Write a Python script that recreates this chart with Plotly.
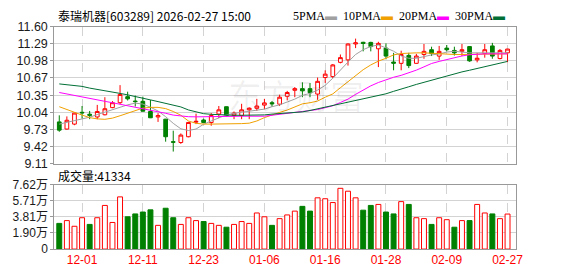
import plotly.graph_objects as go

# ---------------- data ----------------
dates = [
    "2025-11-26", "2025-11-27", "2025-11-28", "2025-12-01", "2025-12-02", "2025-12-03",
    "2025-12-04", "2025-12-05", "2025-12-08", "2025-12-09", "2025-12-10", "2025-12-11",
    "2025-12-12", "2025-12-15", "2025-12-16", "2025-12-17", "2025-12-18", "2025-12-19",
    "2025-12-22", "2025-12-23", "2025-12-24", "2025-12-25", "2025-12-26", "2025-12-29",
    "2025-12-30", "2025-12-31", "2026-01-05", "2026-01-06", "2026-01-07", "2026-01-08",
    "2026-01-09", "2026-01-12", "2026-01-13", "2026-01-14", "2026-01-15", "2026-01-16",
    "2026-01-19", "2026-01-20", "2026-01-21", "2026-01-22", "2026-01-23", "2026-01-26",
    "2026-01-27", "2026-01-28", "2026-01-29", "2026-01-30", "2026-02-02", "2026-02-03",
    "2026-02-04", "2026-02-05", "2026-02-06", "2026-02-09", "2026-02-10", "2026-02-11",
    "2026-02-12", "2026-02-13", "2026-02-24", "2026-02-25", "2026-02-26", "2026-02-27",
]

open_ = [9.87, 9.74, 9.83, 10.045, 10.01, 9.96, 10.00, 10.13, 10.22, 10.33,
         10.25, 10.245, 10.06, 9.96, 9.92, 9.51, 9.495, 9.60, 9.865, 9.905,
         9.858, 10.013, 10.147, 9.986, 9.986, 10.09, 10.118, 10.176, 10.22, 10.193,
         10.337, 10.446, 10.476, 10.476, 10.377, 10.678, 10.695, 10.955, 11.00, 11.29,
         11.32, 11.318, 11.202, 11.214, 10.96, 10.937, 11.081, 10.937, 11.098, 11.185,
         11.069, 11.214, 11.172, 11.155, 11.242, 11.00, 11.115, 11.254, 11.024, 11.128]
high = [9.99, 9.97, 10.03, 10.16, 10.07, 10.18, 10.32, 10.25, 10.54, 10.42,
        10.35, 10.33, 10.27, 10.03, 9.925, 9.71, 9.66, 9.87, 10.02, 9.93,
        10.03, 10.16, 10.15, 10.06, 10.20, 10.135, 10.29, 10.29, 10.25, 10.366,
        10.435, 10.505, 10.591, 10.579, 10.678, 10.81, 10.925, 11.098, 11.30, 11.387,
        11.33, 11.33, 11.33, 11.30, 11.128, 11.167, 11.128, 11.11, 11.289, 11.24,
        11.254, 11.271, 11.24, 11.289, 11.25, 11.128, 11.289, 11.31, 11.197, 11.20]
low = [9.69, 9.73, 9.81, 9.93, 9.92, 9.92, 9.99, 10.12, 10.19, 10.26,
       10.15, 10.06, 9.94, 9.87, 9.51, 9.33, 9.47, 9.59, 9.83, 9.85,
       9.80, 9.94, 9.97, 9.92, 9.92, 9.92, 10.07, 10.10, 10.147, 10.159,
       10.263, 10.32, 10.32, 10.32, 10.273, 10.58, 10.666, 10.937, 10.896, 11.214,
       11.155, 11.155, 10.868, 11.01, 10.81, 10.81, 10.85, 10.93, 11.02, 11.07,
       11.00, 11.155, 11.08, 11.07, 10.965, 10.955, 11.04, 11.02, 11.01, 10.955]
close = [9.72, 9.90, 10.031, 10.035, 9.99, 10.06, 10.11, 10.22, 10.37, 10.29,
         10.24, 10.065, 9.945, 9.985, 9.60, 9.50, 9.63, 9.86, 9.88, 9.858,
         9.986, 10.09, 9.986, 10.031, 10.089, 10.12, 10.159, 10.216, 10.20, 10.32,
         10.406, 10.476, 10.436, 10.401, 10.609, 10.74, 10.908, 11.041, 11.289, 11.31,
         11.30, 11.242, 11.30, 11.069, 10.94, 11.098, 10.896, 11.069, 11.155, 11.115,
         11.155, 11.185, 11.128, 11.185, 10.982, 11.03, 11.185, 11.069, 11.172, 11.197]

ma5 = [9.83, 9.861, 9.896, 9.922, 9.956, 10.003, 10.051, 10.095, 10.138, 10.181,
       10.212, 10.195, 10.138, 10.069, 9.965, 9.844, 9.744, 9.714, 9.74, 9.827,
       9.887, 9.939, 9.999, 10.026, 10.043, 10.06, 10.078, 10.103, 10.147, 10.181,
       10.233, 10.285, 10.354, 10.389, 10.449, 10.536, 10.666, 10.821, 10.96, 11.098,
       11.185, 11.245, 11.271, 11.219, 11.158, 11.072, 11.029, 11.029, 11.064, 11.09,
       11.107, 11.142, 11.156, 11.142, 11.128, 11.128, 11.128, 11.128, 11.128, 11.128]
ma10 = [10.147, 10.091, 10.043, 9.994, 9.948, 9.925, 9.917, 9.939, 9.982, 10.029,
        10.078, 10.121, 10.135, 10.135, 10.112, 10.06, 9.991, 9.887, 9.844, 9.83,
        9.83, 9.83, 9.83, 9.835, 9.839, 9.847, 9.887, 9.948, 9.999, 10.043,
        10.086, 10.147, 10.199, 10.219, 10.25, 10.32, 10.38, 10.493, 10.605, 10.70,
        10.821, 10.908, 10.977, 11.029, 11.09, 11.116, 11.128, 11.128, 11.128, 11.119,
        11.11, 11.102, 11.098, 11.098, 11.098, 11.102, 11.11, 11.11, 11.11, 11.11]
ma20 = [10.406, 10.377, 10.353, 10.328, 10.299, 10.271, 10.245, 10.219, 10.193, 10.168,
        10.138, 10.11, 10.083, 10.053, 10.027, 9.994, 9.974, 9.965, 9.962, 9.965,
        9.974, 9.974, 9.974, 9.974, 9.974, 9.974, 9.974, 9.974, 9.991, 10.008,
        10.015, 10.033, 10.053, 10.074, 10.095, 10.129, 10.164, 10.224, 10.285, 10.372,
        10.45, 10.527, 10.588, 10.64, 10.683, 10.718, 10.761, 10.813, 10.873, 10.934,
        10.972, 11.008, 11.041, 11.071, 11.093, 11.105, 11.11, 11.11, 11.11, 11.11]
ma30 = [10.562, 10.55, 10.538, 10.517, 10.486, 10.465, 10.443, 10.415, 10.389, 10.363,
        10.337, 10.304, 10.271, 10.24, 10.21, 10.178, 10.143, 10.088, 10.055, 10.02,
        10.008, 9.998, 9.991, 9.991, 9.991, 9.991, 9.991, 9.998, 10.012, 10.022,
        10.031, 10.04, 10.053, 10.078, 10.109, 10.138, 10.168, 10.199, 10.233, 10.268,
        10.285, 10.32, 10.354, 10.382, 10.427, 10.463, 10.51, 10.553, 10.593, 10.633,
        10.673, 10.711, 10.752, 10.781, 10.811, 10.842, 10.872, 10.903, 10.934, 10.972]

volume = [30300, 33600, 26900, 37000, 29100, 37000, 51500, 31400, 61600, 38100,
          41500, 43700, 46300, 28000, 48200, 37000, 29100, 37000, 33600, 32500,
          30300, 28000, 25800, 29100, 32500, 30300, 42600, 38100, 28000, 35900,
          40300, 44800, 50400, 44800, 60500, 59400, 54900, 71700, 68300, 60500,
          45900, 51500, 52700, 43700, 41500, 56000, 52700, 37000, 35900, 29100,
          37000, 34700, 25800, 33600, 33600, 52700, 42600, 41500, 35900, 41334]

price_ticks = [9.11, 9.42, 9.73, 10.04, 10.35, 10.67, 10.98, 11.29, 11.60]
price_tick_text = ["9.11", "9.42", "9.73", "10.04", "10.35", "10.67", "10.98", "11.29", "11.60"]
vol_ticks = [0, 19050, 38100, 57150, 76200]
vol_tick_text = ["0", "1.90万", "3.81万", "5.71万", "7.62万"]
date_tick_idx = [3, 11, 19, 27, 35, 43, 51, 59]
date_tick_text = ["12-01", "12-11", "12-23", "01-06", "01-16", "01-28", "02-09", "02-27"]

stock_title = "泰瑞机器[603289] 2026-02-27 15:00"
vol_title = "成交量:41334"
ma_names = ["5PMA", "10PMA", "20PMA", "30PMA"]

# ---------------- styling ----------------
W, H = 578, 276
RED = "#ff0000"
GREEN = "#008000"
MA_COLORS = ["#a0a0a0", "#f0a000", "#ff00ff", "#006f35"]
GRID = "#d3d3d3"
BORDER = "#999999"
FONT = "Liberation Sans, Noto Sans CJK SC, sans-serif"
CJK = "Noto Sans CJK SC, Liberation Sans, sans-serif"


def fx(px):
    return px / W


def fy(py):
    return 1 - py / H


x_dom = [fx(55), fx(522)]
x_range = [-0.65, 60.07]

fig = go.Figure()

fig.add_trace(go.Candlestick(
    x=dates, open=open_, high=high, low=low, close=close,
    increasing=dict(line=dict(color=RED, width=1), fillcolor="#ffffff"),
    decreasing=dict(line=dict(color=GREEN, width=1), fillcolor=GREEN),
    whiskerwidth=0, showlegend=False, hoverinfo="skip",
    xaxis="x", yaxis="y",
))

for ma, col in zip([ma5, ma10, ma20, ma30], MA_COLORS):
    fig.add_trace(go.Scatter(
        x=dates, y=ma, mode="lines", line=dict(color=col, width=1),
        showlegend=False, hoverinfo="skip", xaxis="x", yaxis="y",
    ))

up_vol = []
for i in range(len(close)):
    ref = close[i - 1] if i > 0 else open_[i]
    up_vol.append(close[i] >= ref)
bar_fill = ["#ffffff" if u else GREEN for u in up_vol]
bar_line = [RED if u else GREEN for u in up_vol]

fig.add_trace(go.Bar(
    x=dates, y=volume,
    marker=dict(color=bar_fill, line=dict(color=bar_line, width=1)),
    showlegend=False, hoverinfo="skip", xaxis="x2", yaxis="y2",
))

tick_dates = [dates[i] for i in date_tick_idx]

common_x = dict(
    domain=x_dom, type="category", range=x_range, tickvals=tick_dates,
    showgrid=True, gridcolor=GRID, griddash="dash", gridwidth=1,
    showline=True, mirror=True, linecolor=BORDER, linewidth=1,
    zeroline=False, ticks="", fixedrange=True,
)

fig.update_layout(
    width=W, height=H,
    margin=dict(l=0, r=0, t=0, b=0),
    paper_bgcolor="#ffffff", plot_bgcolor="#ffffff",
    bargap=0.35, boxgap=0.3,
    font=dict(family=FONT, size=12, color="#111111"),
    xaxis=dict(anchor="y", showticklabels=False, rangeslider=dict(visible=False), **common_x),
    yaxis=dict(
        domain=[fy(165), fy(21)], range=[9.11, 11.60],
        tickvals=price_ticks, ticktext=price_tick_text,
        showgrid=True, gridcolor=GRID, gridwidth=1,
        showline=True, mirror=True, linecolor=BORDER, linewidth=1,
        ticks="outside", ticklen=3, tickcolor=BORDER,
        tickfont=dict(family=FONT, size=12.5, color="#1a1a1a"),
        zeroline=False, anchor="x",
    ),
    xaxis2=dict(anchor="y2", showticklabels=True, ticktext=date_tick_text,
                tickfont=dict(family=FONT, size=12, color=RED), **common_x),
    yaxis2=dict(
        domain=[fy(255), fy(187)], range=[0, 76200],
        tickvals=vol_ticks, ticktext=vol_tick_text,
        showgrid=True, gridcolor=GRID, gridwidth=1,
        showline=True, mirror=True, linecolor=BORDER, linewidth=1,
        ticks="outside", ticklen=3, tickcolor=BORDER,
        tickfont=dict(family=FONT, size=12, color="#1a1a1a"),
        zeroline=False, anchor="x2",
    ),
)

legend_html = "  ".join(
    f"{n}<span style='color:{c}'>▬</span>" for n, c in zip(ma_names, MA_COLORS)
)

fig.update_layout(annotations=[
    dict(text=stock_title, x=fx(57), y=fy(9), xref="paper", yref="paper",
         xanchor="left", yanchor="middle", showarrow=False,
         font=dict(family=CJK, size=12, color="#000000")),
    dict(text=legend_html, x=fx(513), y=fy(9), xref="paper", yref="paper",
         xanchor="right", yanchor="middle", showarrow=False,
         font=dict(family="Liberation Serif, serif", size=12, color="#000000")),
    dict(text=vol_title, x=fx(57), y=fy(177), xref="paper", yref="paper",
         xanchor="left", yanchor="middle", showarrow=False,
         font=dict(family=CJK, size=12, color="#000000")),
    dict(text="东方财富", x=fx(300), y=fy(92), xref="paper", yref="paper",
         xanchor="center", yanchor="middle", showarrow=False,
         font=dict(family=CJK, size=34, color="rgba(0,0,0,0.06)")),
])

fig.write_html("out.html")
